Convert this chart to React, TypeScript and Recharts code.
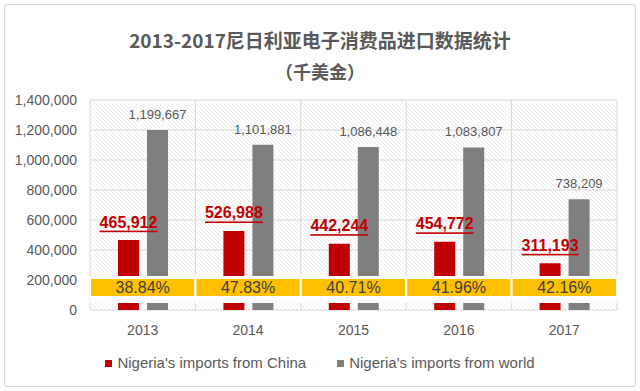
import React from 'react';
import {
  BarChart,
  Bar,
  XAxis,
  YAxis,
  CartesianGrid,
  Legend,
  LabelList,
  ReferenceArea,
} from 'recharts';

const years = ['2013', '2014', '2015', '2016', '2017'];
const chinaImports = [465912, 526988, 442244, 454772, 311193];
const worldImports = [1199667, 1101881, 1086448, 1083807, 738209];
const chinaShare = ['38.84%', '47.83%', '40.71%', '41.96%', '42.16%'];
const yTicks = [0, 200000, 400000, 600000, 800000, 1000000, 1200000, 1400000];

const seriesChina = "Nigeria's imports from China";
const seriesWorld = "Nigeria's imports from world";

const data = years.map((year, i) => ({
  year,
  china: chinaImports[i],
  world: worldImports[i],
}));

// band (in axis units) for the highlighted share strip
const BAND_LOW = 86667;
const BAND_HIGH = 213333;
const MASK_LOW = 46667;
const MASK_HIGH = 226667;

const RED = '#C00000';
const GRAY = '#7F7F7F';
const YELLOW = '#FFC000';
const TEXT = '#595959';
const FONT = '"Liberation Sans", Arial, sans-serif';

const fmt = (v: number) => Number(v).toLocaleString('en-US');

const RedLabel = (props: any) => {
  const { x, y, width, value } = props;
  return (
    <text
      x={Number(x) + Number(width) / 2}
      y={Number(y) - 18}
      textAnchor="middle"
      dominantBaseline="central"
      fill={RED}
      fontSize={16}
      fontWeight="bold"
      fontFamily={FONT}
      textDecoration="underline"
    >
      {fmt(value)}
    </text>
  );
};

const renderLegend = (props: any) => {
  const { payload } = props;
  return (
    <div
      style={{
        display: 'flex',
        justifyContent: 'center',
        gap: 31,
        fontSize: 15,
        lineHeight: '20px',
        height: 20,
        color: TEXT,
        fontFamily: FONT,
      }}
    >
      {(payload || []).map((p: any) => (
        <span key={p.value} style={{ display: 'flex', alignItems: 'center' }}>
          <span
            style={{
              display: 'inline-block',
              width: 7,
              height: 7,
              background: p.color,
              marginRight: 5,
            }}
          />
          {p.value}
        </span>
      ))}
    </div>
  );
};

export default function App() {
  return (
    <div
      style={{
        position: 'absolute',
        left: 0,
        top: 0,
        width: 640,
        height: 391,
        background: '#fff',
        fontFamily: FONT,
      }}
    >
      <div
        style={{
          position: 'absolute',
          left: 4,
          top: 4,
          width: 632,
          height: 383,
          border: '1px solid #D9D9D9',
          boxSizing: 'border-box',
          borderRadius: 3,
        }}
      />
      <div
        style={{
          position: 'absolute',
          left: 0,
          top: 27,
          width: 640,
          textAlign: 'center',
          fontFamily: '"Noto Sans CJK SC", sans-serif',
          fontWeight: 'bold',
          fontSize: 19,
          lineHeight: '26px',
          color: TEXT,
        }}
      >
        2013-2017尼日利亚电子消费品进口数据统计
      </div>
      <div
        style={{
          position: 'absolute',
          left: 0,
          top: 58,
          width: 640,
          textAlign: 'center',
          fontFamily: '"Noto Sans CJK SC", sans-serif',
          fontWeight: 'bold',
          fontSize: 18,
          lineHeight: '26px',
          color: TEXT,
        }}
      >
        （千美金）
      </div>
      <div style={{ position: 'absolute', left: 0, top: 0 }}>
        <BarChart
          width={640}
          height={391}
          data={data}
          margin={{ top: 100, right: 23, left: 10, bottom: 31 }}
          barGap={8}
          barSize={21}
        >
          <defs>
            <pattern id="hatch" width="4" height="4" patternUnits="userSpaceOnUse">
              <rect width="4" height="4" fill="#FFFFFF" />
              <path d="M0,0 L4,4 M-1,3 L1,5 M3,-1 L5,1" stroke="#E6E6E6" strokeWidth="0.8" />
            </pattern>
          </defs>
          <CartesianGrid
            stroke="#D9D9D9"
            fill="url(#hatch)"
            fillOpacity={1}
            verticalCoordinatesGenerator={({ offset }: any) => {
              const pts: number[] = [];
              for (let i = 0; i <= years.length; i++) {
                pts.push(offset.left + (offset.width * i) / years.length);
              }
              return pts;
            }}
          />
          <XAxis
            dataKey="year"
            axisLine={false}
            tickLine={false}
            tickSize={13}
            tickMargin={2}
            height={30}
            tick={{ fill: TEXT, fontSize: 14, fontFamily: FONT }}
          />
          <YAxis
            domain={[0, 1400000]}
            ticks={yTicks}
            axisLine={false}
            tickLine={false}
            tickSize={11}
            tickMargin={2}
            width={80}
            tickFormatter={fmt}
            tick={{ fill: TEXT, fontSize: 14, fontFamily: FONT }}
          />
          <Bar dataKey="china" name={seriesChina} fill={RED} isAnimationActive={false}>
            <LabelList dataKey="china" content={RedLabel} />
          </Bar>
          <Bar dataKey="world" name={seriesWorld} fill={GRAY} isAnimationActive={false}>
            <LabelList
              dataKey="world"
              position="top"
              offset={11}
              formatter={(v: any) => fmt(v)}
              fill={TEXT}
              fontSize={13}
              fontFamily={FONT}
            />
          </Bar>
          {years.map((yr) => (
            <ReferenceArea
              key={'mask' + yr}
              x1={yr}
              x2={yr}
              y1={MASK_LOW}
              y2={MASK_HIGH}
              fill="#FFFFFF"
              fillOpacity={1}
              stroke="none"
              zIndex={550}
              ifOverflow="visible"
            />
          ))}
          {years.map((yr, i) => (
            <ReferenceArea
              key={'band' + yr}
              x1={yr}
              x2={yr}
              y1={BAND_LOW}
              y2={BAND_HIGH}
              fill={YELLOW}
              fillOpacity={1}
              stroke="#FFFFFF"
              strokeWidth={2}
              zIndex={560}
              ifOverflow="visible"
              label={{
                value: chinaShare[i],
                position: 'center',
                fill: '#404040',
                fontSize: 16,
                fontFamily: FONT,
              }}
            />
          ))}
          <Legend
            verticalAlign="bottom"
            content={renderLegend}
            wrapperStyle={{ left: 0, width: 640, bottom: 18 }}
          />
        </BarChart>
      </div>
    </div>
  );
}
